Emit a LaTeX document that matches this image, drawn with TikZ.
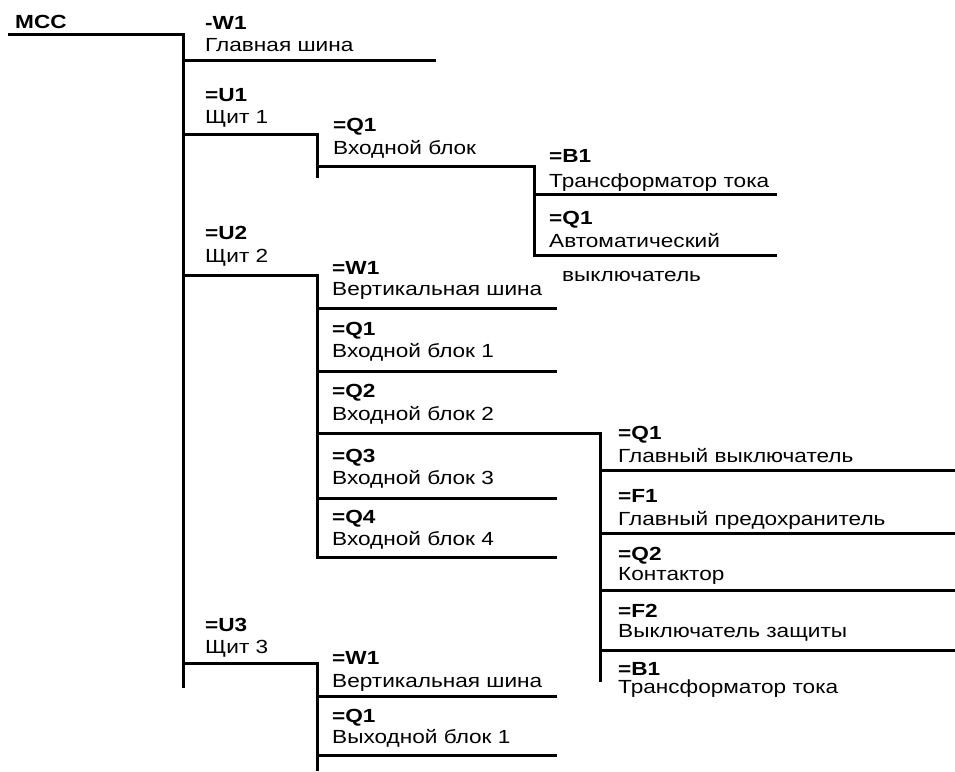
\documentclass[tikz,border=0pt]{standalone}
\usepackage{fontspec}
\setmainfont{Liberation Sans}[FakeStretch=1.19]
\begin{document}
\begin{tikzpicture}[x=1pt,y=-1pt,
  ln/.style={line width=3pt, line join=miter},
  lbl/.style={font=\fontsize{19}{23}\selectfont\bfseries, anchor=base west, inner sep=0pt},
  txt/.style={font=\fontsize{19}{23}\selectfont, anchor=base west, inner sep=0pt, yshift=1.5pt}]
\useasboundingbox (0,0) rectangle (955,771);
% ---------- texts ----------
\node[lbl] (mcc) at (15,28) {MCC};
\node[lbl] (w1l) at (205,29) {-W1};
\node[txt] (w1t) at (205,53) {Главная шина};
\node[lbl] (u1l) at (205,101) {=U1};
\node[txt] (u1t) at (205,125) {Щит 1};
\node[lbl] (u1q1l) at (333,131) {=Q1};
\node[txt] (u1q1t) at (333,156) {Входной блок};
\node[lbl] (b1l) at (549,162) {=B1};
\node[txt] (b1t) at (549,189) {Трансформатор тока};
\node[lbl] (aq1l) at (549,224) {=Q1};
\node[txt] (aq1t) at (549,249) {Автоматический};
\node[txt] (aq1t2) at (562,283) {выключатель};
\node[lbl] (u2l) at (205,239) {=U2};
\node[txt] (u2t) at (205,264) {Щит 2};
\node[lbl] (u2w1l) at (332,274) {=W1};
\node[txt] (u2w1t) at (332,297) {Вертикальная шина};
\node[lbl] (u2q1l) at (332,335) {=Q1};
\node[txt] (u2q1t) at (332,359) {Входной блок 1};
\node[lbl] (u2q2l) at (332,397) {=Q2};
\node[txt] (u2q2t) at (332,422) {Входной блок 2};
\node[lbl] (u2q3l) at (332,462) {=Q3};
\node[txt] (u2q3t) at (332,486) {Входной блок 3};
\node[lbl] (u2q4l) at (332,523) {=Q4};
\node[txt] (u2q4t) at (332,547) {Входной блок 4};
\node[lbl] (rq1l) at (618,439) {=Q1};
\node[txt] (rq1t) at (618,464) {Главный выключатель};
\node[lbl] (rf1l) at (618,502) {=F1};
\node[txt] (rf1t) at (618,527) {Главный предохранитель};
\node[lbl] (rq2l) at (618,560) {=Q2};
\node[txt] (rq2t) at (618,582) {Контактор};
\node[lbl] (rf2l) at (618,617) {=F2};
\node[txt] (rf2t) at (618,639) {Выключатель защиты};
\node[lbl] (rb1l) at (618,675) {=B1};
\node[txt] (rb1t) at (618,695) {Трансформатор тока};
\node[lbl] (u3l) at (205,631) {=U3};
\node[txt] (u3t) at (205,655) {Щит 3};
\node[lbl] (u3w1l) at (332,664) {=W1};
\node[txt] (u3w1t) at (332,689) {Вертикальная шина};
\node[lbl] (u3q1l) at (332,722) {=Q1};
\node[txt] (u3q1t) at (332,745) {Выходной блок 1};
% ---------- junction points ----------
\coordinate (m0) at (8,34);
\coordinate (m1) at (183,34);
\coordinate (mEnd) at (183,688);
\coordinate (w1a) at (183,60);   \coordinate (w1b) at (436,60);
\coordinate (u1a) at (183,134);  \coordinate (u1b) at (317,134);  \coordinate (u1c) at (317,178);
\coordinate (q1a) at (317,166);  \coordinate (q1b) at (534,166);  \coordinate (q1c) at (534,255);
\coordinate (b1a) at (534,194);  \coordinate (b1b) at (777,194);
\coordinate (aq1b) at (777,255);
\coordinate (u2a) at (183,275);  \coordinate (u2b) at (317,275);  \coordinate (u2c) at (317,557);
\coordinate (u2w1a) at (317,308); \coordinate (u2w1b) at (557,308);
\coordinate (u2q1a) at (317,371); \coordinate (u2q1b) at (557,371);
\coordinate (u2q2a) at (317,433); \coordinate (u2q2b) at (600,433); \coordinate (u2q2c) at (600,682);
\coordinate (u2q3a) at (317,498); \coordinate (u2q3b) at (557,498);
\coordinate (u2q4b) at (557,557);
\coordinate (rq1a) at (600,470); \coordinate (rq1b) at (955,470);
\coordinate (rf1a) at (600,533); \coordinate (rf1b) at (955,533);
\coordinate (rq2a) at (600,590); \coordinate (rq2b) at (955,590);
\coordinate (rf2a) at (600,650); \coordinate (rf2b) at (955,650);
\coordinate (u3a) at (183,663);  \coordinate (u3b) at (317,663);  \coordinate (u3c) at (317,771);
\coordinate (u3w1a) at (317,696); \coordinate (u3w1b) at (557,696);
\coordinate (u3q1a) at (317,755); \coordinate (u3q1b) at (557,755);
% ---------- lines ----------
\draw[ln] (m0) -- (m1) -- (mEnd);
\draw[ln] (w1a) -- (w1b);
\draw[ln] (u1a) -- (u1b) -- (u1c);
\draw[ln] (q1a) -- (q1b) -- (q1c) -- (aq1b);
\draw[ln] (b1a) -- (b1b);
\draw[ln] (u2a) -- (u2b) -- (u2c) -- (u2q4b);
\draw[ln] (u2w1a) -- (u2w1b);
\draw[ln] (u2q1a) -- (u2q1b);
\draw[ln] (u2q2a) -- (u2q2b) -- (u2q2c);
\draw[ln] (u2q3a) -- (u2q3b);
\draw[ln] (rq1a) -- (rq1b);
\draw[ln] (rf1a) -- (rf1b);
\draw[ln] (rq2a) -- (rq2b);
\draw[ln] (rf2a) -- (rf2b);
\draw[ln] (u3a) -- (u3b) -- (u3c);
\draw[ln] (u3w1a) -- (u3w1b);
\draw[ln] (u3q1a) -- (u3q1b);
\end{tikzpicture}
\end{document}
